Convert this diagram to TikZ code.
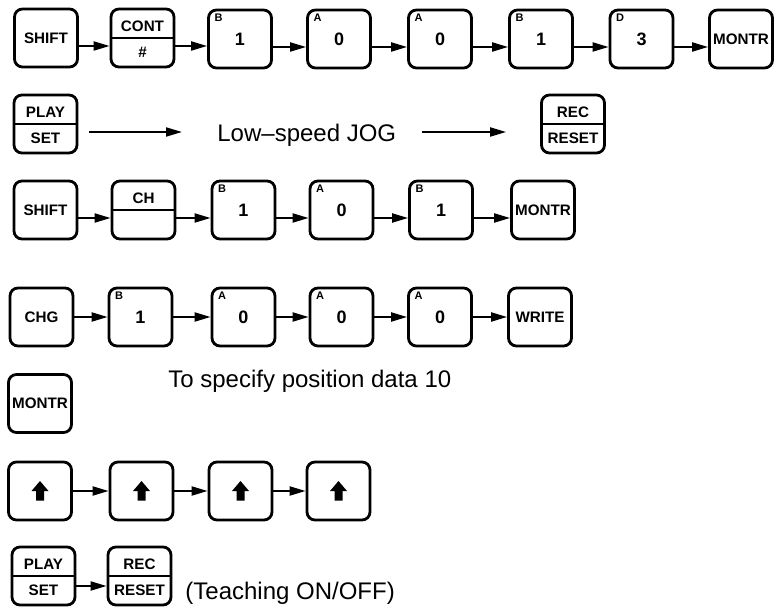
\documentclass[tikz,border=0pt]{standalone}
\usepackage{fontspec}
\setmainfont{Liberation Sans}
\usetikzlibrary{arrows.meta}

\tikzset{
    key/.style={draw, line width=1.4pt, rounded corners=4pt, minimum width=31.5pt,
        minimum height=29pt, inner sep=0pt, font=\bfseries\fontsize{7.6}{8}\selectfont},
    digitkey/.style={key, font=\bfseries\fontsize{9}{9}\selectfont},
    upkey/.style={key, path picture={
        \fill[sharp corners, shift={(path picture bounding box.center)}]
        (0,5pt) -- (4.25pt,0) -- (2pt,0) -- (2pt,-4.75pt) -- (-2pt,-4.75pt)
        -- (-2pt,0) -- (-4.25pt,0) -- cycle;}},
    tag/.style={anchor=north west, inner sep=0pt, font=\bfseries\fontsize{5.5}{5.5}\selectfont},
    half/.style={inner sep=0pt, font=\bfseries\fontsize{7.6}{8}\selectfont},
    bar/.style={line width=1pt},
    conn/.style={->, line width=1pt},
    say/.style={inner sep=0pt, anchor=base west, font=\fontsize{12}{14}\selectfont}
}

\begin{document}
\begin{tikzpicture}[x=0.5pt, y=-0.5pt, >={Triangle[length=8pt, width=4.5pt]}]
    \useasboundingbox (0,0) rectangle (775,608);

    % 1. first row: SHIFT, CONT/#, 1 0 0 1 3, MONTR
    \node[key] (shiftA) at (46,38) {SHIFT};
    \node[key] (contA) at (142.5,38) {};
    \draw[bar] (contA.west) -- (contA.east);
    \node[half] (contup) at ([yshift=6pt]contA.center) {CONT};
    \node[half] (contlo) at ([yshift=-7pt]contA.center) {\#};
    \node[digitkey] (oneA) at (240,39) {1};
    \node[tag] (oneAtag) at ([xshift=3.5pt, yshift=-2.5pt]oneA.north west) {B};
    \node[digitkey] (zeroA) at (339,39) {0};
    \node[tag] (zeroAtag) at ([xshift=3.5pt, yshift=-2.5pt]zeroA.north west) {A};
    \node[digitkey] (zeroB) at (440,39) {0};
    \node[tag] (zeroBtag) at ([xshift=3.5pt, yshift=-2.5pt]zeroB.north west) {A};
    \node[digitkey] (oneB) at (541,39) {1};
    \node[tag] (oneBtag) at ([xshift=3.5pt, yshift=-2.5pt]oneB.north west) {B};
    \node[digitkey] (three) at (641.5,39) {3};
    \node[tag] (threetag) at ([xshift=3.5pt, yshift=-2.5pt]three.north west) {D};
    \node[key] (montrA) at (741,39) {MONTR};
    \draw[conn] ([yshift=-4pt]shiftA.east) -- ([yshift=-4pt]contA.west);
    \draw[conn] ([yshift=-4pt]contA.east) -- ([yshift=-4pt]contA.east -| oneA.west);
    \draw[conn] ([yshift=-4pt]oneA.east) -- ([yshift=-4pt]zeroA.west);
    \draw[conn] ([yshift=-4pt]zeroA.east) -- ([yshift=-4pt]zeroB.west);
    \draw[conn] ([yshift=-4pt]zeroB.east) -- ([yshift=-4pt]oneB.west);
    \draw[conn] ([yshift=-4pt]oneB.east) -- ([yshift=-4pt]three.west);
    \draw[conn] ([yshift=-4pt]three.east) -- ([yshift=-4pt]montrA.west);

    % 2. second row: PLAY/SET -> Low-speed JOG -> REC/RESET
    \node[key] (playA) at (45.5,124) {};
    \draw[bar] (playA.west) -- (playA.east);
    \node[half] (playup) at ([yshift=6pt]playA.center) {PLAY};
    \node[half] (playlo) at ([yshift=-7pt]playA.center) {SET};
    \node[say] (jog) at (217,141.5) {Low--speed JOG};
    \node[key] (recA) at (573,124) {};
    \draw[bar] (recA.west) -- (recA.east);
    \node[half] (recup) at ([yshift=6pt]recA.center) {REC};
    \node[half] (reclo) at ([yshift=-7pt]recA.center) {RESET};
    \draw[conn, shorten <=5.5pt, shorten >=17.5pt] ([yshift=-4pt]playA.east) -- ([yshift=-4pt]playA.east -| jog.west);
    \draw[conn, shorten <=12.5pt, shorten >=17pt] ([yshift=-4pt]recA.west -| jog.east) -- ([yshift=-4pt]recA.west);

    % 3. third row: SHIFT, CH, 1 0 1, MONTR
    \node[key] (shiftB) at (45.5,210) {SHIFT};
    \node[key] (chB) at (143.5,210) {};
    \draw[bar] (chB.west) -- (chB.east);
    \node[half] (chup) at ([yshift=6pt]chB.center) {CH};
    \node[digitkey] (oneC) at (243.5,210) {1};
    \node[tag] (oneCtag) at ([xshift=3.5pt, yshift=-2.5pt]oneC.north west) {B};
    \node[digitkey] (zeroC) at (341.5,210) {0};
    \node[tag] (zeroCtag) at ([xshift=3.5pt, yshift=-2.5pt]zeroC.north west) {A};
    \node[digitkey] (oneD) at (441,210) {1};
    \node[tag] (oneDtag) at ([xshift=3.5pt, yshift=-2.5pt]oneD.north west) {B};
    \node[key] (montrB) at (543,210) {MONTR};
    \draw[conn] ([yshift=-4pt]shiftB.east) -- ([yshift=-4pt]chB.west);
    \draw[conn] ([yshift=-4pt]chB.east) -- ([yshift=-4pt]oneC.west);
    \draw[conn] ([yshift=-4pt]oneC.east) -- ([yshift=-4pt]zeroC.west);
    \draw[conn] ([yshift=-4pt]zeroC.east) -- ([yshift=-4pt]oneD.west);
    \draw[conn] ([yshift=-4pt]oneD.east) -- ([yshift=-4pt]montrB.west);

    % 4. fourth row: CHG, 1 0 0 0, WRITE
    \node[key] (chg) at (41.5,317) {CHG};
    \node[digitkey] (oneE) at (140.5,317) {1};
    \node[tag] (oneEtag) at ([xshift=3.5pt, yshift=-2.5pt]oneE.north west) {B};
    \node[digitkey] (zeroE) at (243.5,317) {0};
    \node[tag] (zeroEtag) at ([xshift=3.5pt, yshift=-2.5pt]zeroE.north west) {A};
    \node[digitkey] (zeroF) at (341.5,317) {0};
    \node[tag] (zeroFtag) at ([xshift=3.5pt, yshift=-2.5pt]zeroF.north west) {A};
    \node[digitkey] (zeroG) at (440,317) {0};
    \node[tag] (zeroGtag) at ([xshift=3.5pt, yshift=-2.5pt]zeroG.north west) {A};
    \node[key] (write) at (540,317) {WRITE};
    \draw[conn] (chg) -- (oneE);
    \draw[conn] (oneE) -- (zeroE);
    \draw[conn] (zeroE) -- (zeroF);
    \draw[conn] (zeroF) -- (zeroG);
    \draw[conn] (zeroG) -- (write);

    % 5. MONTR alone and its note
    \node[key] (montrC) at (40,403.5) {MONTR};
    \node[say] (posnote) at (168,387) {To specify position data 10};

    % 6. four arrow keys
    \node[upkey] (upA) at (40,491) {};
    \node[upkey] (upB) at (141.5,491) {};
    \node[upkey] (upC) at (240.5,491) {};
    \node[upkey] (upD) at (338.5,491) {};
    \draw[conn] (upA) -- (upB);
    \draw[conn] (upB) -- (upC);
    \draw[conn] (upC) -- (upD);

    % 7. last row: PLAY/SET -> REC/RESET (Teaching ON/OFF)
    \node[key] (playB) at (43.5,576) {};
    \draw[bar] (playB.west) -- (playB.east);
    \node[half] (playBup) at ([yshift=6pt]playB.center) {PLAY};
    \node[half] (playBlo) at ([yshift=-7pt]playB.center) {SET};
    \node[key] (recB) at (139.5,576) {};
    \draw[bar] (recB.west) -- (recB.east);
    \node[half] (recBup) at ([yshift=6pt]recB.center) {REC};
    \node[half] (recBlo) at ([yshift=-7pt]recB.center) {RESET};
    \draw[conn] ([yshift=-5pt]playB.east) -- ([yshift=-5pt]recB.west);
    \node[say] (teach) at (185,599) {(Teaching ON/OFF)};
\end{tikzpicture}
\end{document}
